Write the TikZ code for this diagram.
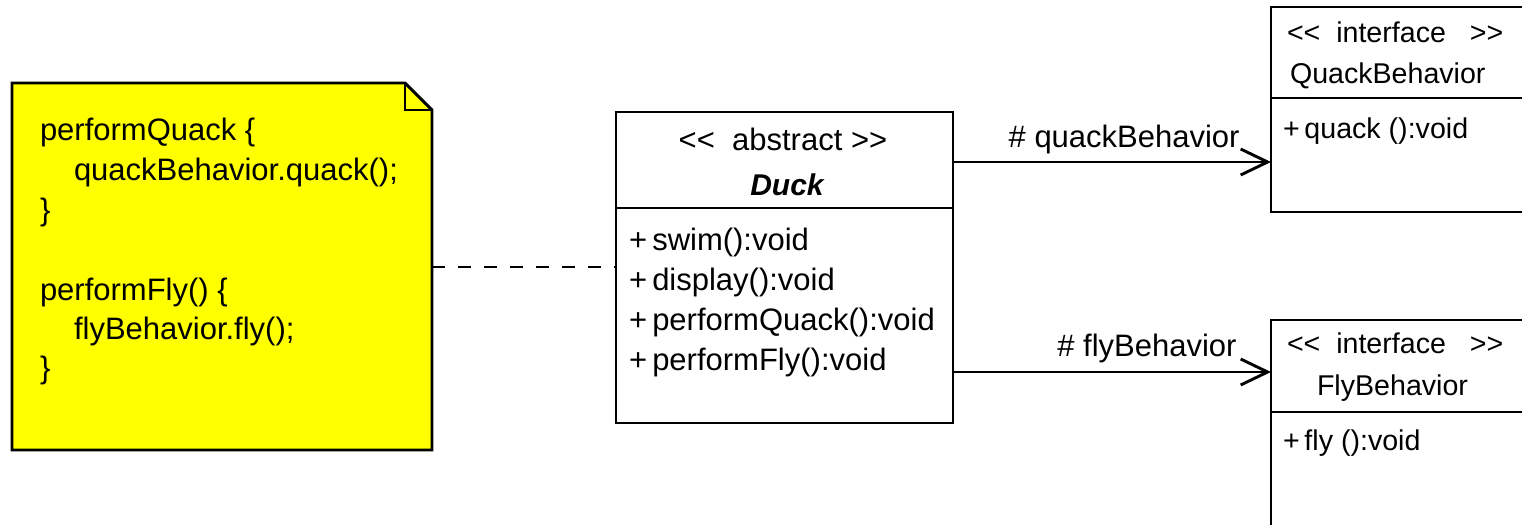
\documentclass[tikz,border=0pt]{standalone}
\usepackage{fontspec}
\setmainfont{Liberation Sans}
\usetikzlibrary{arrows.meta}
\definecolor{notefill}{HTML}{FFFF00}
\tikzset{
  x=0.5pt, y=-0.5pt,
  line/.style={line width=1.45pt},
  umlbox/.style={line, draw, rectangle, inner sep=0pt, outer sep=0pt, anchor=north west},
  txt/.style={inner sep=0pt, outer sep=0pt, anchor=base west, font=\fontsize{15.5pt}{19.75pt}\selectfont},
  ifacetxt/.style={txt, font=\fontsize{14.3pt}{17pt}\selectfont},
  assoc/.style={line, -{Straight Barb[length=13.5pt, width=13pt, line width=1.45pt]}},
  rolelabel/.style={inner sep=0pt, anchor=base east, font=\fontsize{15.5pt}{18pt}\selectfont},
}
\newcommand{\stopen}{<\kern0pt<}
\newcommand{\stclose}{>\kern0pt>}
\begin{document}
\begin{tikzpicture}
\useasboundingbox (0,0) rectangle (1522,525);
\clip (0,0) rectangle (1522,525);

% note with folded corner
\node[rectangle, inner sep=0pt, outer sep=0pt, anchor=north west,
      minimum width=210pt, minimum height=183.5pt] (note) at (12,83) {};
\draw[line, fill=notefill, line join=miter]
  (note.north west) -- ([xshift=-13.5pt]note.north east)
  -- ([yshift=-13.5pt]note.north east) -- (note.south east)
  -- (note.south west) -- cycle;
\draw[line] ([xshift=-13.5pt]note.north east) |- ([yshift=-13.5pt]note.north east);
\node[txt] (c1) at (40,140) {performQuack \{};
\node[txt] (c2) at (74,180) {quackBehavior.quack();};
\node[txt] (c3) at (40,220) {\}};
\node[txt] (c4) at (40,300) {performFly() \{};
\node[txt] (c5) at (74,339) {flyBehavior.fly();};
\node[txt] (c6) at (40,378) {\}};

% abstract class Duck
\node[umlbox, minimum width=168.5pt, minimum height=155.5pt] (duck) at (616,112) {};
\coordinate (duckdiv) at (0,208);
\draw[line] (duck.west |- duckdiv) -- (duck.east |- duckdiv);
\node[txt, anchor=base] (duckst) at (783,150) {\stopen\ \ abstract \stclose};
\node[txt, anchor=base, font=\fontsize{15pt}{18pt}\selectfont\bfseries\itshape] (duckname) at (787,195) {Duck};
\node[txt] (m1) at (629,250) {+\,swim():void};
\node[txt] (m2) at (629,290) {+\,display():void};
\node[txt] (m3) at (629,330) {+\,performQuack():void};
\node[txt] (m4) at (629,370) {+\,performFly():void};

% interface QuackBehavior
\node[umlbox, minimum width=144.5pt, minimum height=102.5pt] (quack) at (1271,7) {};
\coordinate (quackdiv) at (0,98);
\draw[line] (quack.west |- quackdiv) -- (quack.east |- quackdiv);
\node[ifacetxt] (qst) at (1287,42) {\stopen\ \ interface\ \ \ \stclose};
\node[ifacetxt] (qname) at (1290,83) {QuackBehavior};
\node[ifacetxt] (qm) at (1283,138) {+\,quack ():void};

% interface FlyBehavior
\node[umlbox, minimum width=144.5pt, minimum height=120pt] (fly) at (1271,320) {};
\coordinate (flydiv) at (0,412);
\draw[line] (fly.west |- flydiv) -- (fly.east |- flydiv);
\node[ifacetxt] (fst) at (1287,353) {\stopen\ \ interface\ \ \ \stclose};
\node[ifacetxt] (fname) at (1317,395) {FlyBehavior};
\node[ifacetxt] (fm) at (1283,450) {+\,fly ():void};

% connectors
\coordinate (notelink) at (0,267);
\draw[line, dash pattern=on 6.5pt off 6.5pt] (note.east |- notelink) -- (duck.west |- notelink);

\coordinate (qlink) at (0,162);
\draw[assoc] (duck.east |- qlink) -- (quack.west |- qlink);
\node[rolelabel] (qrole) at (1240,147) {\#\ quackBehavior};

\coordinate (flink) at (0,372);
\draw[assoc] (duck.east |- flink) -- (fly.west |- flink);
\node[rolelabel] (frole) at (1237,356) {\#\ flyBehavior};
\end{tikzpicture}
\end{document}
